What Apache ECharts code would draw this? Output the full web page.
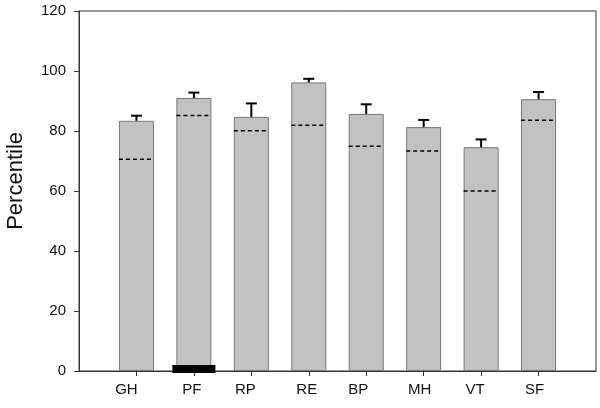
<!DOCTYPE html>
<html>
<head>
<meta charset="utf-8">
<script src="https://cdn.jsdelivr.net/npm/echarts@6/dist/echarts.min.js"></script>
<style>html,body{margin:0;padding:0;background:#fff;}#c{width:600px;height:408px;}</style>
</head>
<body>
<div id="c"></div>
<script>
var categories = ['', 'GH', 'PF', 'RP', 'RE', 'BP', 'MH', 'VT', 'SF', ''];
var means = ['-', 83.4, 91.0, 84.7, 96.2, 85.7, 81.3, 74.6, 90.6, '-'];
var upperErr = ['-', 85.1, 92.8, 89.2, 97.4, 88.9, 83.7, 77.2, 93.0, '-'];
var reference = ['-', 70.6, 85.2, 80.1, 81.9, 74.9, 73.3, 60.0, 83.6, '-'];
var markerCategory = 'PF';
var markerValue = 2;
var yTicks = [0, 20, 40, 60, 80, 100, 120];

// label shift (px, leftwards) as in the original layout
var labelShift = [0, 10, 2, 6, 2, 8, 4, 6, 4, 0];

var errData = [], refData = [];
for (var i = 0; i < categories.length; i++) {
  if (means[i] !== '-') {
    errData.push([i, means[i], upperErr[i]]);
    refData.push([i, reference[i]]);
  }
}
var markerData = [[categories.indexOf(markerCategory), markerValue]];

var rich = {};
for (var k = 0; k < categories.length; k++) {
  rich['s' + k] = { fontSize: 15, fontFamily: 'Liberation Sans, Arial', color: '#111', padding: [0, labelShift[k] * 2, 0, 0] };
}

var chart = echarts.init(document.getElementById('c'));
var axisColor = '#333';
chart.setOption({
  animation: false,
  grid: { left: 79, right: 4, top: 11, bottom: 37, show: true, borderColor: axisColor, borderWidth: 1, backgroundColor: 'transparent' },
  xAxis: {
    type: 'category', data: categories, boundaryGap: false,
    axisLine: { lineStyle: { color: axisColor, width: 1 } },
    axisTick: { show: true, length: 5, interval: function (idx) { return idx > 0 && idx < categories.length - 1; }, lineStyle: { color: axisColor } },
    axisLabel: {
      color: '#111', fontSize: 15, fontFamily: 'Liberation Sans, Arial', margin: 11, interval: 0,
      formatter: function (v, idx) { return v ? '{s' + idx + '|' + v + '}' : ''; },
      rich: rich
    },
    splitLine: { show: false }
  },
  yAxis: {
    type: 'value', min: yTicks[0], max: yTicks[yTicks.length - 1], interval: 20,
    axisLine: { show: true, lineStyle: { color: axisColor, width: 1 } },
    axisTick: { show: true, length: 5, lineStyle: { color: axisColor } },
    axisLabel: { color: '#111', fontSize: 15, fontFamily: 'Liberation Sans, Arial', margin: 13 },
    splitLine: { show: false }
  },
  graphic: [{
    type: 'text', left: 5, top: 132, rotation: Math.PI / 2,
    style: { text: 'Percentile', font: '22px "Liberation Sans", Arial', fill: '#111' }
  }],
  series: [
    {
      type: 'bar', data: means, barWidth: 35,
      itemStyle: { color: '#c2c2c2', borderColor: '#777', borderWidth: 1 },
      z: 2
    },
    {
      type: 'custom', data: errData, z: 3,
      renderItem: function (params, api) {
        var x = api.coord([api.value(0), 0])[0];
        var y1 = api.coord([api.value(0), api.value(1)])[1];
        var y2 = api.coord([api.value(0), api.value(2)])[1];
        return { type: 'group', children: [
          { type: 'line', shape: { x1: x, y1: y1, x2: x, y2: y2 }, style: { stroke: '#000', lineWidth: 2 } },
          { type: 'line', shape: { x1: x - 5.5, y1: y2, x2: x + 5.5, y2: y2 }, style: { stroke: '#000', lineWidth: 2 } }
        ] };
      }
    },
    {
      type: 'custom', data: refData, z: 4,
      renderItem: function (params, api) {
        var p = api.coord([api.value(0), api.value(1)]);
        return { type: 'line', shape: { x1: p[0] - 17.5, y1: p[1], x2: p[0] + 17.5, y2: p[1] },
          style: { stroke: '#000', lineWidth: 1.5, lineDash: [4, 3] } };
      }
    },
    {
      type: 'custom', data: markerData, z: 5,
      renderItem: function (params, api) {
        var p = api.coord([api.value(0), api.value(1)]);
        return { type: 'rect', shape: { x: p[0] - 21.5, y: p[1], width: 43, height: 8 }, style: { fill: '#000' } };
      }
    }
  ]
});
</script>
</body>
</html>
